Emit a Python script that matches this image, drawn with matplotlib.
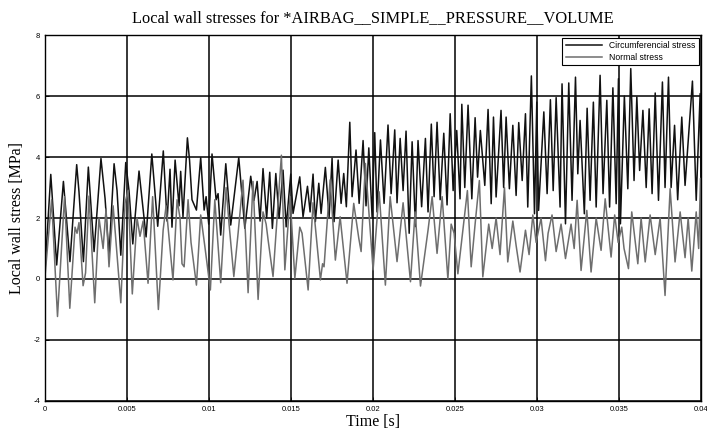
import numpy as np
import matplotlib
matplotlib.use('Agg')
import matplotlib.pyplot as plt

plt.rcParams['axes.unicode_minus'] = False

# time in ms, stress in MPa (peaks and troughs)
t_circ = [0.00, 0.35, 0.71, 1.12, 1.52, 1.93, 2.07, 2.34, 2.64, 2.99,
          3.41, 3.66, 3.90, 4.21, 4.39, 4.62, 4.92, 5.12, 5.35, 5.73,
          6.16, 6.51, 6.87, 7.21, 7.44, 7.62, 7.74, 7.93, 8.17, 8.27,
          8.41, 8.68, 8.81, 8.96, 9.23, 9.49, 9.70, 9.82, 9.98, 10.18,
          10.43, 10.55, 10.71, 11.02, 11.32, 11.81, 12.18, 12.54, 12.74, 12.93,
          13.11, 13.29, 13.51, 13.70, 13.86, 14.07, 14.27, 14.51, 14.70, 14.98,
          15.12, 15.53, 15.73, 16.00, 16.16, 16.34, 16.48, 16.69, 16.83, 17.09,
          17.32, 17.50, 17.62, 17.87, 18.05, 18.21, 18.37, 18.58, 18.72, 18.96,
          19.15, 19.39, 19.57, 19.74, 19.94, 20.10, 20.24, 20.45, 20.67, 20.91,
          21.10, 21.32, 21.46, 21.65, 21.83, 22.01, 22.20, 22.38, 22.58, 22.74,
          22.96, 23.19, 23.35, 23.55, 23.72, 23.90, 24.09, 24.31, 24.51, 24.70,
          24.88, 25.10, 25.30, 25.41, 25.59, 25.79, 26.02, 26.22, 26.37, 26.54,
          26.81, 27.01, 27.20, 27.34, 27.50, 27.80, 27.96, 28.11, 28.31, 28.52,
          28.72, 28.88, 29.09, 29.29, 29.43, 29.65, 29.84, 29.98, 30.09, 30.41,
          30.61, 30.81, 30.98, 31.16, 31.40, 31.52, 31.73, 31.93, 32.13, 32.34,
          32.48, 32.62, 32.88, 33.05, 33.23, 33.43, 33.60, 33.84, 34.02, 34.25,
          34.42, 34.62, 34.82, 34.96, 35.08, 35.32, 35.53, 35.71, 35.91, 36.08,
          36.25, 36.45, 36.65, 36.83, 37.01, 37.20, 37.40, 37.64, 37.80, 38.01,
          38.17, 38.38, 38.57, 38.82, 39.02, 39.47, 39.70, 39.94, 40.00]
s_circ = [0.30, 3.43, 0.46, 3.20, 0.57, 3.75, 2.86, 0.57, 3.67, 0.90,
          3.95, 2.64, 0.78, 3.78, 2.90, 0.78, 3.82, 2.90, 1.15, 3.54,
          1.38, 4.10, 1.73, 4.20, 1.90, 3.60, 1.70, 3.90, 2.40, 3.53,
          2.04, 4.63, 3.90, 2.60, 2.26, 3.98, 2.26, 2.70, 1.80, 4.10,
          2.60, 2.80, 1.44, 3.78, 1.77, 3.98, 1.66, 3.37, 2.58, 3.20,
          1.90, 3.62, 2.00, 3.50, 1.66, 3.46, 2.00, 3.57, 1.71, 3.44,
          2.15, 3.35, 2.04, 3.04, 2.20, 3.44, 1.88, 3.14, 2.15, 3.66,
          2.04, 3.96, 1.88, 3.90, 2.48, 3.46, 2.37, 5.14, 2.70, 4.23,
          2.48, 4.54, 2.40, 4.30, 2.04, 4.80, 2.20, 4.56, 2.48, 5.05,
          2.80, 4.89, 2.50, 4.61, 2.90, 4.85, 1.50, 4.50, 1.72, 4.54,
          2.37, 4.61, 2.20, 5.08, 2.70, 5.14, 2.60, 4.78, 2.43, 5.42,
          2.90, 4.87, 2.63, 5.73, 3.00, 5.70, 2.63, 5.29, 3.34, 4.87,
          3.07, 5.56, 2.47, 5.31, 2.69, 5.53, 3.00, 5.31, 2.96, 5.04,
          2.74, 5.13, 3.23, 5.42, 2.36, 6.66, 2.14, 5.80, 2.25, 5.48,
          2.80, 5.88, 2.90, 5.95, 2.36, 6.40, 1.81, 6.43, 2.58, 6.62,
          3.45, 5.20, 2.14, 5.60, 2.58, 5.80, 2.36, 6.68, 2.80, 5.86,
          2.36, 6.27, 2.47, 6.57, 1.81, 6.00, 2.96, 6.90, 3.23, 5.97,
          3.56, 5.53, 3.00, 5.58, 2.80, 6.10, 2.58, 6.46, 3.00, 6.62,
          3.00, 5.04, 2.60, 5.31, 3.07, 6.49, 2.58, 6.08, 2.40]

t_norm = [0.00, 0.24, 0.40, 0.76, 1.19, 1.51, 1.83, 1.95, 2.07, 2.32,
          2.47, 2.68, 3.03, 3.29, 3.54, 3.72, 3.90, 4.15, 4.30, 4.62,
          4.88, 5.06, 5.32, 5.61, 5.79, 5.98, 6.28, 6.56, 6.91, 7.20,
          7.38, 7.80, 8.05, 8.23, 8.35, 8.48, 8.72, 8.90, 9.23, 9.49,
          9.76, 10.08, 10.35, 10.71, 11.04, 11.22, 11.51, 11.77, 12.07, 12.38,
          12.68, 12.99, 13.29, 13.48, 13.60, 13.90, 14.41, 14.62, 14.94, 15.23,
          15.53, 15.67, 16.04, 16.34, 16.79, 16.92, 17.01, 17.38, 17.70, 17.99,
          18.41, 18.82, 19.13, 19.27, 19.53, 20.00, 20.37, 20.75, 21.04, 21.46,
          21.83, 22.28, 22.56, 22.89, 23.35, 23.60, 23.90, 24.21, 24.56, 24.76,
          24.94, 25.17, 25.43, 25.75, 25.98, 26.22, 26.48, 26.69, 27.05, 27.26,
          27.50, 27.74, 28.01, 28.21, 28.52, 28.72, 28.96, 29.29, 29.51, 29.74,
          29.94, 30.24, 30.51, 30.67, 30.91, 31.16, 31.46, 31.73, 32.07, 32.26,
          32.44, 32.68, 33.03, 33.29, 33.60, 33.90, 34.15, 34.51, 34.73, 34.94,
          35.16, 35.30, 35.57, 35.77, 36.14, 36.34, 36.59, 36.89, 37.20, 37.50,
          37.80, 38.11, 38.41, 38.72, 39.02, 39.21, 39.43, 39.70, 39.85, 39.96,
          40.00]
s_norm = [0.10, 1.60, 2.60, -1.23, 2.70, -0.96, 1.70, 1.50, 1.85, -0.22,
          0.20, 2.72, -0.78, 2.00, 1.00, 2.30, 0.40, 2.40, 1.40, -0.78,
          2.50, 2.90, -0.49, 2.00, 1.40, 1.90, -0.14, 2.70, -1.00, 1.60,
          2.40, -0.03, 2.60, 2.00, 0.50, 0.40, 2.60, 1.20, -0.20, 2.10,
          1.00, -0.36, 2.60, -0.12, 3.00, 1.80, 0.08, 1.50, 3.24, -0.45,
          3.20, -0.67, 2.20, 1.80, 1.28, 0.08, 4.06, 0.30, 2.70, 0.02,
          1.70, 1.50, -0.36, 2.50, -0.03, 0.50, 0.40, 3.25, 0.62, 2.04,
          -0.14, 2.48, 1.33, 0.90, 3.79, 0.30, 2.86, -0.20, 2.70, 0.57,
          2.50, -0.09, 2.20, -0.23, 1.60, 2.70, 0.84, 2.70, 0.00, 1.80,
          1.50, 0.17, 1.40, 2.90, 0.40, 1.80, 3.23, 0.07, 1.80, 1.00,
          2.00, 0.80, 3.00, 0.56, 1.90, 1.10, 0.23, 1.60, 0.80, 2.10,
          1.20, 2.00, 0.60, 1.50, 2.10, 0.90, 1.80, 0.67, 1.80, 1.00,
          2.58, 0.28, 2.25, 0.23, 2.00, 0.94, 2.63, 0.72, 2.10, 1.20,
          1.70, 1.00, 0.34, 2.20, 0.50, 2.00, 0.56, 2.10, 0.80, 2.00,
          -0.54, 2.96, 0.56, 2.20, 0.70, 2.00, 0.26, 2.20, 1.00, 3.30,
          0.00]

x_ticks = [0, 0.005, 0.01, 0.015, 0.02, 0.025, 0.03, 0.035, 0.04]
x_labels = ['0', '0.005', '0.01', '0.015', '0.02', '0.025', '0.03', '0.035', '0.04']
y_ticks = [-4, -2, 0, 2, 4, 6, 8]

t_circ = np.array(t_circ) * 1e-3
t_norm = np.array(t_norm) * 1e-3

fig = plt.figure(figsize=(7.07, 4.33), dpi=100)
ax = fig.add_axes([0.0637, 0.074, 0.928, 0.845])

ax.plot(t_circ, s_circ, color='#111111', lw=1.1, label='Circumferencial stress')
ax.plot(t_norm, s_norm, color='#6e6e6e', lw=1.1, label='Normal stress')

ax.set_xlim(0, 0.04)
ax.set_ylim(-4, 8)
ax.set_xticks(x_ticks)
ax.set_xticklabels(x_labels)
ax.set_yticks(y_ticks)
ax.grid(True, color='black', lw=1.1, ls='-')
ax.tick_params(direction='in', labelsize=5.5, length=3, width=0.6)
for lab in ax.get_xticklabels() + ax.get_yticklabels():
    lab.set_family('Liberation Sans')
for sp in ax.spines.values():
    sp.set_linewidth(1.0)

ax.set_title('Local wall stresses for *AIRBAG__SIMPLE__PRESSURE__VOLUME',
             family='Liberation Serif', fontsize=11.8, pad=9)
ax.set_xlabel('Time [s]', family='Liberation Serif', fontsize=11.5, labelpad=1)
ax.set_ylabel('Local wall stress [MPa]', family='Liberation Serif', fontsize=11.5, labelpad=6)

leg = ax.legend(loc='upper right', prop={'family': 'Liberation Sans', 'size': 6.2},
                fancybox=False, framealpha=1, edgecolor='black', handlelength=4.2,
                borderaxespad=0.3, borderpad=0.4, labelspacing=0.3)
leg.get_frame().set_linewidth(0.8)

fig.savefig('out.png', dpi=100)
